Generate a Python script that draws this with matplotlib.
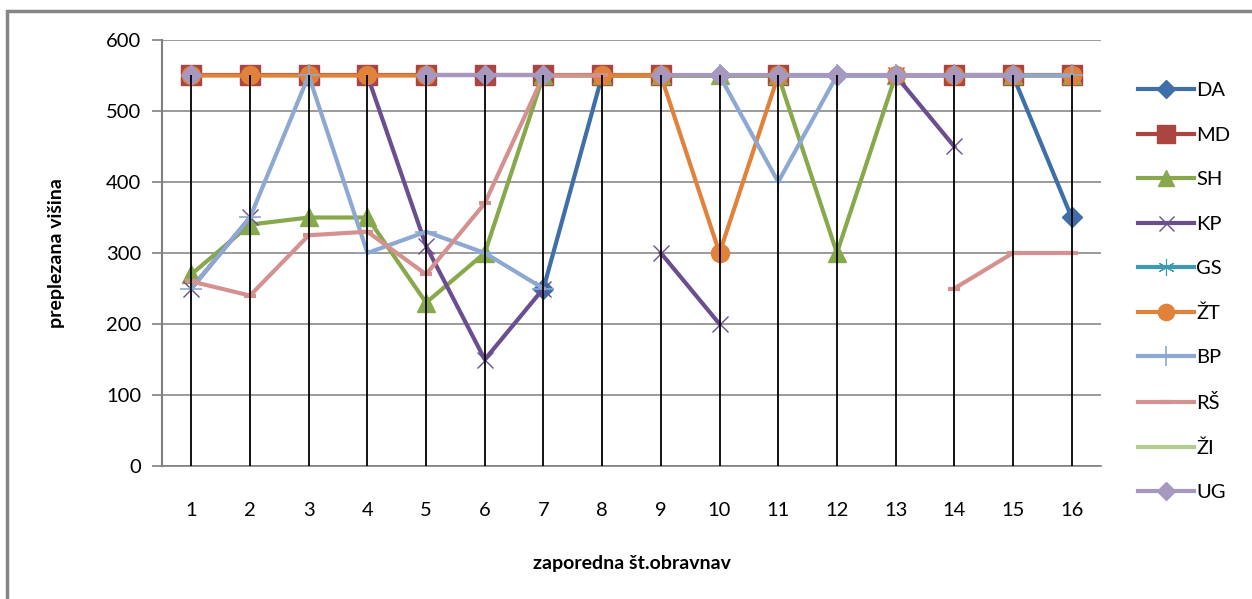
#!/usr/bin/env python3

#imports
import numpy as np
import matplotlib
matplotlib.use("Agg")
import matplotlib.pyplot as plt
from matplotlib.patches import Rectangle

#data
N = None
cats = list(range(1, 17))
tick_labels = [str(c) for c in cats]

da = [N, N, N, N, N, N, 250, 550, 550, 550, 550, 550, 550, 550, 550, 350]
md = [550, 550, 550, 550, 550, 550, 550, 550, 550, N, 550, N, N, 550, 550, 550]
sh = [270, 340, 350, 350, 230, 300, 550, 550, 550, 550, 550, 300, 550, N, 550, 550]
kp = [250, 350, N, 550, 310, 150, 250, N, 300, 200, N, N, 550, 450, N, N]
gs = [N] * 16
zt = [550, 550, 550, 550, 550, N, N, 550, 550, 300, 550, N, 550, 550, 550, 550]
bp = [250, 350, 550, 300, 330, 300, 250, N, N, 550, 400, 550, 550, 550, 550, 550]
rs = [260, 240, 325, 330, 270, 370, 550, 550, N, N, N, N, N, 250, 300, 300]
zi = [N] * 16
ug = [550, N, N, N, 550, 550, 550, N, 550, 550, 550, 550, 550, 550, 550, N]

names = ["DA", "MD", "SH", "KP", "GS", "ŽT", "BP", "RŠ", "ŽI", "UG"]
series = [da, md, sh, kp, gs, zt, bp, rs, zi, ug]

#styles
colors = ["#3F6FA8", "#AA4542", "#88A94B", "#6B4E90", "#3C9BB2",
          "#E0823A", "#8EA9D1", "#D49190", "#B5CC8F", "#A798BF"]
markers = ["D", "s", "^", "x", (6, 2, 0), "o", "+", "_", "", "D"]
msizes = [10, 14, 13, 12, 13, 13, 16, 9, 0, 10]
mews = [1, 1, 1, 1, 0.8, 1, 1.2, 3, 1, 1]

plt.rcParams['font.family'] = ['Lato', 'DejaVu Sans']

def to_arr(vals):
    return np.array([np.nan if v is None else v for v in vals], dtype=float)

def main():
    fig = plt.figure(figsize=(12.52, 5.99), dpi=100)
    ax = fig.add_axes([162 / 1252, 1 - 466 / 599, 939 / 1252, 426 / 599])

    # chart area border
    fig.patches.append(Rectangle((7 / 1252, -0.1), 1.2, 1 - 11 / 599 + 0.1,
                                 transform=fig.transFigure, fill=False,
                                 edgecolor="#868686", lw=2.5))

    for i, (name, vals) in enumerate(zip(names, series)):
        y = to_arr(vals)
        kw = dict(color=colors[i], lw=3, label=name, zorder=3 + i)
        if markers[i]:
            mfc = colors[i] if markers[i] not in ("x", "+", "_") else "none"
            kw.update(marker=markers[i], markersize=msizes[i],
                      markerfacecolor=mfc, markeredgecolor=colors[i],
                      markeredgewidth=mews[i])
        ax.plot(cats, y, **kw)

    # drop lines from the highest point of each category
    all_vals = np.vstack([to_arr(v) for v in series])
    tops = np.nanmax(all_vals, axis=0)
    ax.vlines(cats, 0, tops, colors="black", lw=1.3, zorder=20)

    ax.set_xlim(0.5, 16.5)
    ax.set_ylim(0, 600)
    ax.set_yticks(range(0, 601, 100))
    ax.set_xticks(cats)
    ax.set_xticklabels(tick_labels)
    ax.yaxis.grid(True, color="#808080", lw=1.1)
    ax.set_axisbelow(True)
    for s in ["top", "right"]:
        ax.spines[s].set_visible(False)
    ax.spines["left"].set_color("#808080")
    ax.spines["bottom"].set_color("#808080")
    ax.spines["left"].set_linewidth(1.5)
    ax.spines["bottom"].set_linewidth(1.2)
    ax.tick_params(axis="y", length=7, color="#808080", width=1.2, pad=8, labelsize=14.5)
    ax.tick_params(axis="x", length=0, pad=26, labelsize=14.5)

    ax.set_ylabel("preplezana višina", fontsize=14, fontweight="bold")
    ax.yaxis.set_label_coords(-(162 - 65) / 939, 0.5)
    ax.set_xlabel("zaporedna št.obravnav", fontsize=14, fontweight="bold")
    ax.xaxis.set_label_coords(0.5, -(563 - 466) / 426)
    ax.xaxis.label.set_va("center")

    fig.legend(loc="upper left", bbox_to_anchor=(1138 / 1252, 1 - 82 / 599),
               frameon=False, fontsize=14.5, handlelength=2.8,
               handletextpad=0.1, labelspacing=1.36, borderpad=0,
               borderaxespad=0, markerscale=0.9)

    fig.savefig("out.png", dpi=100)

#main call
if __name__ == "__main__":
    main()
